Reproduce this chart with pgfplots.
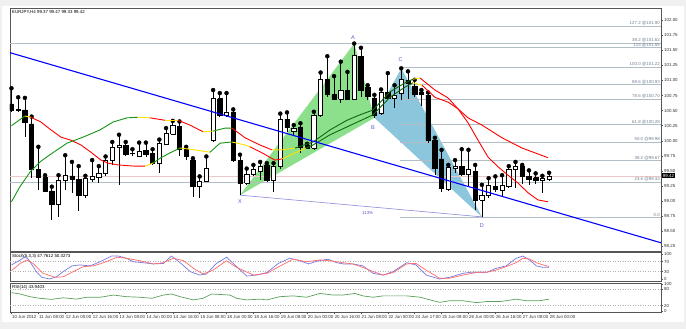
\documentclass[border=0pt]{standalone}
\usepackage{pgfplots}
\pgfplotsset{compat=1.18}
\usepackage{pgfplotstable}
\usepackage{fontspec}
\setmainfont{Liberation Sans}

\definecolor{frame}{RGB}{85,85,85}
\definecolor{magreen}{RGB}{20,150,20}
\definecolor{mayellow}{RGB}{255,225,0}
\definecolor{mared}{RGB}{255,0,0}
\definecolor{trigreen}{RGB}{140,224,140}
\definecolor{triblue}{RGB}{140,198,220}
\definecolor{fibcol}{RGB}{178,190,198}
\definecolor{fibtxt}{RGB}{115,130,148}
\definecolor{patcol}{RGB}{90,90,205}
\definecolor{stblue}{RGB}{120,120,225}
\definecolor{stred}{RGB}{255,105,105}
\definecolor{rsigreen}{RGB}{90,160,90}
\definecolor{bgray}{RGB}{240,240,240}
\definecolor{bidcol}{RGB}{235,200,200}

\newcommand\tk{\fontsize{4.4}{5}\selectfont}

\pgfplotstableread{
i O H L C
0 100.61 100.87 100.48 100.51
1 100.51 100.72 100.47 100.52
2 100.51 100.71 100.07 100.30
3 100.28 100.40 99.38 99.52
4 99.52 99.90 99.19 99.39
5 99.39 99.43 99.16 99.17
6 99.17 99.24 98.69 98.94
7 98.94 99.43 98.74 99.35
8 99.34 99.76 99.19 99.43
9 99.42 99.65 99.13 99.37
10 99.36 99.58 98.83 99.09
11 99.09 99.42 99.05 99.38
12 99.36 99.68 99.32 99.42
13 99.39 99.58 99.30 99.46
14 99.46 99.74 99.41 99.67
15 99.67 99.98 99.60 99.90
16 99.90 100.10 99.27 99.92
17 99.93 99.98 99.74 99.78
18 99.79 99.86 99.74 99.80
19 99.75 99.97 99.74 99.83
20 99.84 99.97 99.73 99.78
21 99.79 99.86 99.60 99.62
22 99.63 100.02 99.46 99.96
23 99.95 100.21 99.93 100.12
24 100.11 100.33 100.10 100.26
25 100.24 100.32 99.74 99.86
26 99.86 99.90 99.68 99.74
27 99.68 99.71 99.07 99.24
28 99.24 99.41 99.06 99.33
29 99.33 99.74 99.32 99.55
30 100.01 100.84 99.98 100.70
31 100.70 100.79 100.40 100.43
32 100.43 100.79 100.40 100.48
33 100.48 100.52 99.65 99.67
34 99.67 99.77 99.10 99.30
35 99.30 99.54 99.27 99.45
36 99.44 99.60 99.41 99.52
37 99.50 99.65 99.35 99.58
38 99.60 99.63 99.32 99.35
39 99.35 99.63 99.16 99.57
40 99.57 100.45 99.54 100.36
41 100.36 100.47 100.15 100.22
42 100.15 100.26 100.08 100.21
43 100.23 100.29 99.79 99.90
44 99.92 99.95 99.87 99.88
45 99.88 100.48 99.85 100.43
46 100.43 101.13 100.40 101.01
47 101.02 101.40 100.73 100.77
48 100.77 101.07 100.67 100.69
49 100.69 101.31 100.62 100.84
50 100.83 101.14 100.67 100.69
51 100.69 101.61 100.67 101.42
52 101.40 101.54 100.73 100.83
53 100.89 100.92 100.67 100.73
54 100.71 100.76 100.38 100.43
55 100.46 100.85 100.43 100.81
56 100.80 101.12 100.68 100.70
57 100.71 100.92 100.54 100.76
58 100.79 101.20 100.68 101.01
59 101.00 101.15 100.70 100.95
60 100.91 101.01 100.72 100.77
61 100.81 100.84 100.57 100.77
62 100.75 100.80 99.96 100.01
63 100.01 100.05 99.43 99.55
64 99.70 99.85 99.15 99.21
65 99.20 99.60 99.17 99.56
66 99.55 99.68 99.46 99.58
67 99.58 99.86 99.42 99.45
68 99.44 99.85 99.24 99.52
69 99.49 99.60 98.85 99.02
70 99.02 99.27 98.74 99.10
71 99.09 99.38 99.06 99.27
72 99.25 99.41 99.15 99.20
73 99.18 99.43 99.07 99.27
74 99.24 99.58 99.21 99.53
75 99.53 99.65 99.21 99.57
76 99.58 99.60 99.28 99.41
77 99.41 99.51 99.27 99.37
78 99.39 99.46 99.28 99.35
79 99.34 99.42 99.13 99.38
80 99.37 99.47 99.33 99.42
}\candles

\pgfplotsset{
  panel/.style={
    anchor=south west, scale only axis, width=651pt,
    xmin=-0.22, xmax=96.65, clip mode=individual,
    axis line style={draw=frame, line width=0.7pt},
    tick style={draw=frame, line width=0.5pt},
    tick align=outside, major tick length=2pt,
    ytick pos=right, yticklabel pos=right,
    yticklabel style={font=\tk, inner sep=1pt, text=black!80},
    /pgf/number format/assume math mode=true,
  },
}

\begin{document}
\begin{tikzpicture}[x=1pt,y=1pt]
\fill[bgray] (0,0) rectangle (686,329);
\fill[white] (2,7) rectangle (684,323);

% ---------------- main price panel ----------------
\begin{axis}[panel, at={(10pt,78pt)}, height=243pt,
  ymin=98.175, ymax=102.199, xtick=\empty,
  ytick={98.25,98.5,98.75,99,99.25,99.5,99.75,100,100.25,100.5,100.75,101,101.25,101.5,101.75,102},
  /pgf/number format/fixed, /pgf/number format/fixed zerofill, /pgf/number format/precision=2]

% harmonic pattern fills
\addplot[fill=trigreen, draw=none] coordinates {(34,99.10) (51,101.61) (54,100.38)};
\addplot[fill=triblue, draw=none] coordinates {(54,100.38) (58,101.20) (70,98.74)};

% fibonacci levels
\addplot[fibcol, line width=0.7pt] coordinates {(57.8,101.90) (96.65,101.90)};
\addplot[fibcol, line width=0.7pt] coordinates {(-0.22,101.62) (96.65,101.62)};
\addplot[fibcol, line width=0.7pt] coordinates {(57.8,101.54) (96.65,101.54)};
\addplot[fibcol, line width=0.7pt] coordinates {(57.8,101.22) (96.65,101.22)};
\addplot[fibcol, line width=0.7pt] coordinates {(57.8,100.93) (96.65,100.93)};
\addplot[fibcol, line width=0.7pt] coordinates {(57.8,100.69) (96.65,100.69)};
\addplot[fibcol, line width=0.7pt] coordinates {(57.8,100.27) (96.65,100.27)};
\addplot[fibcol, line width=0.7pt] coordinates {(57.8,99.98) (96.65,99.98)};
\addplot[fibcol, line width=0.7pt] coordinates {(57.8,99.67) (96.65,99.67)};
\addplot[fibcol, line width=0.7pt] coordinates {(-0.22,99.32) (96.65,99.32)};
\addplot[fibcol, line width=0.7pt] coordinates {(57.8,98.73) (96.65,98.73)};
\addplot[bidcol, line width=0.6pt] coordinates {(-0.22,99.42) (96.65,99.42)};

% X-D line
\addplot[patcol!70, line width=0.6pt] coordinates {(34,99.10) (70,98.74)};

% candles: wicks
\addplot[black, only marks, mark=none, error bars/.cd, y dir=minus, y explicit, error mark=none,
  error bar style={black, line width=0.7pt}]
  table[x=i, y=H, y error minus expr={\thisrow{H}-\thisrow{L}}] {\candles};
% candle bodies
\pgfplotsinvokeforeach{0,...,80}{
  \pgfplotstablegetelem{#1}{O}\of\candles \let\vO=\pgfplotsretval
  \pgfplotstablegetelem{#1}{C}\of\candles \let\vC=\pgfplotsretval
  \pgfmathtruncatemacro\isbull{(\vC>=\vO) ? 1 : 0}
  \pgfmathsetmacro\xl{#1-0.32}
  \pgfmathsetmacro\xr{#1+0.32}
  \ifnum\isbull=1 \def\bcol{white}\else\def\bcol{black}\fi
  \edef\temp{\noexpand\addplot[draw=black, line width=0.6pt, fill=\bcol]
    coordinates {(\xl,\vO) (\xr,\vO) (\xr,\vC) (\xl,\vC) (\xl,\vO)};}
  \temp
}

% fast MA
\addplot[magreen, line width=0.9pt] coordinates {(0,100.25) (1.0,100.33) (2.0,100.41)};
\addplot[mayellow, line width=0.9pt] coordinates {(2.0,100.41) (2.9,100.39)};
\addplot[mared, line width=0.9pt] coordinates {(2.9,100.39) (4.39,100.31) (5.88,100.18) (7.37,100.06) (8.85,100.01) (10.34,99.93) (11.83,99.81) (13.32,99.68) (14.36,99.63) (15.85,99.60) (18.38,99.58) (19.87,99.58)};
\addplot[mayellow, line width=0.9pt] coordinates {(19.87,99.58) (21.06,99.63)};
\addplot[magreen, line width=0.9pt] coordinates {(21.06,99.63) (22.1,99.71) (23.59,99.80) (25.07,99.88)};
\addplot[mayellow, line width=0.9pt] coordinates {(25.07,99.88) (27.3,99.85) (29.54,99.81)};
\addplot[magreen, line width=0.9pt] coordinates {(29.54,99.81) (31.03,99.96) (32.81,99.98)};
\addplot[mayellow, line width=0.9pt] coordinates {(32.81,99.98) (34.75,99.93) (35.5,99.90)};
\addplot[mared, line width=0.9pt] coordinates {(35.5,99.90) (37.28,99.80) (39.2,99.68) (40.25,99.70)};
\addplot[mayellow, line width=0.9pt] coordinates {(40.25,99.70) (42.19,99.80) (43.82,99.88)};
\addplot[magreen!70!black, line width=0.9pt] coordinates {(43.82,99.88) (44.87,99.93) (47.4,100.10) (49.93,100.23) (51.86,100.33) (53.8,100.43) (56.32,100.72) (58.56,100.89) (59.75,100.96)};
\addplot[mayellow, line width=0.9pt] coordinates {(59.75,100.96) (61.09,100.92)};
\addplot[mared, line width=0.9pt] coordinates {(61.09,100.92) (63.02,100.72) (64.96,100.64) (66.44,100.53) (67.93,100.30) (69.42,100.01) (70.91,99.73) (72.4,99.57) (73.88,99.43) (75.37,99.30) (76.86,99.14) (78.35,99.02) (79.84,98.99)};

% slow MA
\addplot[magreen, line width=0.9pt] coordinates {(0,98.99) (1.26,99.24) (2.75,99.48) (4.24,99.65) (5.73,99.77) (8.26,99.96) (10.64,100.06) (13.17,100.18) (15.10,100.31) (17.19,100.38) (18.82,100.39)};
\addplot[mayellow, line width=0.9pt] coordinates {(18.82,100.39) (20.61,100.38)};
\addplot[mared, line width=0.9pt] coordinates {(20.61,100.38) (22.84,100.34)};
\addplot[mayellow, line width=0.9pt] coordinates {(22.84,100.34) (24.78,100.34)};
\addplot[mared, line width=0.9pt] coordinates {(24.78,100.34) (26.56,100.26) (28.5,100.15)};
\addplot[mayellow, line width=0.9pt] coordinates {(28.5,100.15) (29.99,100.16)};
\addplot[magreen, line width=0.9pt] coordinates {(29.99,100.16) (31.77,100.21) (32.81,100.21)};
\addplot[mared, line width=0.9pt] coordinates {(32.81,100.21) (34.75,100.05) (36.98,99.93) (38.76,99.85)};
\addplot[mayellow, line width=0.9pt] coordinates {(38.76,99.85) (40.25,99.85) (42.19,99.88)};
\addplot[magreen!70!black, line width=0.9pt] coordinates {(42.19,99.88) (44.87,99.98) (47.4,100.18) (49.93,100.34) (51.86,100.43) (53.8,100.51) (56.32,100.81) (58.56,100.96) (59.75,101.02)};
\addplot[mayellow, line width=0.9pt] coordinates {(59.75,101.02) (60.79,101.04)};
\addplot[mared, line width=0.9pt] coordinates {(60.79,101.04) (63.02,100.84) (64.96,100.71) (66.44,100.53) (67.93,100.38) (70.01,100.26) (72.99,100.05) (75.97,99.88) (79.84,99.72)};

% blue trend line
\addplot[blue, line width=1.1pt] coordinates {(-0.22,101.459) (96.65,98.311)};

% labels
\node[anchor=north west, font=\tk, inner sep=0pt, xshift=2pt, yshift=-2.5pt] at (rel axis cs:0,1) {EURJPY,H4 99.37 99.47 99.33 99.42};
\begin{scope}[every node/.style={font=\fontsize{5.5}{6}\selectfont, text=patcol, inner sep=0pt}]
\node at (axis cs:34,98.99) {X};
\node at (axis cs:50.8,101.71) {A};
\node at (axis cs:53.8,100.21) {B};
\node at (axis cs:57.9,101.34) {C};
\node at (axis cs:70,98.59) {D};
\node[font=\tk, text=patcol] at (axis cs:53,98.80) {113\%};
\end{scope}
\begin{scope}[every node/.style={font=\tk, text=fibtxt, inner sep=0.6pt, anchor=south east}]
\node at (axis cs:96.6,101.90) {127.2 @101.90};
\node at (axis cs:96.6,101.625) {38.2 @101.62};
\node at (axis cs:96.6,101.54) {113 @101.55};
\node at (axis cs:96.6,101.22) {100.0 @101.22};
\node at (axis cs:96.6,100.93) {88.6 @100.93};
\node at (axis cs:96.6,100.69) {78.6 @100.70};
\node at (axis cs:96.6,100.27) {61.8 @100.28};
\node at (axis cs:96.6,99.98) {50.0 @99.98};
\node at (axis cs:96.6,99.67) {38.2 @99.67};
\node at (axis cs:96.6,99.32) {23.6 @99.33};
\node at (axis cs:96.6,98.73) {0.0};
\end{scope}
\node[fill=black, text=white, font=\tk, inner sep=0.8pt, anchor=west, xshift=1pt] at (axis cs:96.65,99.42) {99.42};
\end{axis}

% ---------------- stochastic panel ----------------
\begin{axis}[panel, at={(10pt,47.5pt)}, height=29pt,
  ymin=-10.1, ymax=107.3, xtick=\empty, ytick={0,30,70,100}]
\addplot[gray!60, dotted, line width=0.5pt] coordinates {(-0.22,70) (96.65,70)};
\addplot[gray!60, dotted, line width=0.5pt] coordinates {(-0.22,30) (96.65,30)};
\addplot[stblue, line width=0.7pt] coordinates {(0,57) (1.3,77) (2,90) (2.5,80) (3.7,30) (4.5,7) (5.7,0) (6.7,9) (7.7,30) (9,53) (10.2,57) (11.7,53) (13.2,70) (14.9,93) (15.9,93) (17.1,84) (18.1,70) (19.6,66) (21.1,61) (22.6,63) (23.8,93) (25.1,66) (26.6,30) (28,16) (29,20) (30.5,63) (32,88) (33,63) (35,12) (36.5,16) (38,26) (39.7,63) (41.4,84) (42.9,74) (44.2,61) (45.7,74) (47.1,80) (48.4,66) (49.4,61) (50.8,61) (52.3,53) (53.8,23) (55.3,16) (56.8,30) (58.8,66) (60.2,57) (61.7,16) (63.7,0) (65.2,7) (67.2,23) (68.2,27) (70.7,27) (72.1,43) (73.6,53) (75.1,84) (76.1,93) (77.1,77) (78.1,53) (79.1,47) (80,47.76)};
\addplot[stred, line width=0.7pt] coordinates {(0,34) (1.3,63) (2.3,77) (3.2,63) (4.7,23) (6.5,7) (7.7,9) (9.2,30) (10.7,50) (12.2,53) (13.7,66) (15.7,88) (17.1,84) (19.1,74) (21.1,61) (22.6,66) (24.1,84) (25.6,74) (27.1,43) (28.5,20) (30,36) (32,74) (33.5,47) (36,16) (38,23) (40,53) (41.9,80) (43.9,70) (45.9,77) (47.4,74) (49.3,66) (50.8,61) (52.3,47) (53.8,30) (55.3,16) (56.8,26) (58.8,61) (60.2,63) (61.7,36) (63.7,3) (65.2,3) (67.2,16) (69.2,27) (70.7,27) (72.1,36) (73.6,50) (75.1,66) (76.1,84) (77.1,81) (78.1,66) (79.1,57) (80,50.33)};
\node[anchor=north west, font=\tk, inner sep=0pt, xshift=2pt, yshift=-2pt] at (rel axis cs:0,1) {Stoch(5,3,3) 47.7612 50.3273};
\end{axis}

% ---------------- RSI panel ----------------
\begin{axis}[panel, at={(10pt,16.7pt)}, height=29.3pt,
  ymin=-4.8, ymax=103.7, ytick={0,20,80,100},
  xtick={0,4,...,80}, xtick pos=bottom,
  xticklabels={10 Jun 2012,11 Jun 08:00,12 Jun 00:00,12 Jun 16:00,13 Jun 08:00,14 Jun 00:00,14 Jun 16:00,15 Jun 08:00,18 Jun 00:00,18 Jun 16:00,19 Jun 08:00,20 Jun 00:00,20 Jun 16:00,21 Jun 08:00,22 Jun 00:00,24 Jun 17:00,25 Jun 08:00,26 Jun 00:00,26 Jun 16:00,27 Jun 08:00,28 Jun 00:00},
  xticklabel style={font=\tk, anchor=north west, inner sep=1pt, xshift=-0.5pt, text=black!80}]
\addplot[gray!60, dotted, line width=0.5pt] coordinates {(-0.22,80) (96.65,80)};
\addplot[gray!60, dotted, line width=0.5pt] coordinates {(-0.22,20) (96.65,20)};
\addplot[rsigreen, line width=0.7pt] coordinates {(0,68) (1.3,63) (2.75,53) (4.24,47) (5.98,43) (7.7,49) (9.7,44) (11.2,51) (13.2,51) (15.2,59) (17.1,53) (19.1,51) (20.9,47) (22.6,59) (23.8,63) (25.1,53) (27.1,41) (28.5,47) (29.8,63) (32.5,59) (33.5,47) (35,41) (37,44) (38,41) (39.9,53) (41.9,56) (43.9,51) (45.9,65) (47.9,59) (49.3,59) (51.1,65) (52.3,56) (53.8,51) (55.3,56) (58.8,56) (60.8,51) (62.3,41) (63.7,32) (65.2,38) (67.2,38) (69.2,31) (70.7,35) (72.7,35) (73.6,38) (75.1,44) (76.6,38) (78.6,38) (80,43.94)};
\node[anchor=north west, font=\tk, inner sep=0pt, xshift=2pt, yshift=-2pt] at (rel axis cs:0,1) {RSI(14) 43.9403};
\end{axis}
\end{tikzpicture}
\end{document}
